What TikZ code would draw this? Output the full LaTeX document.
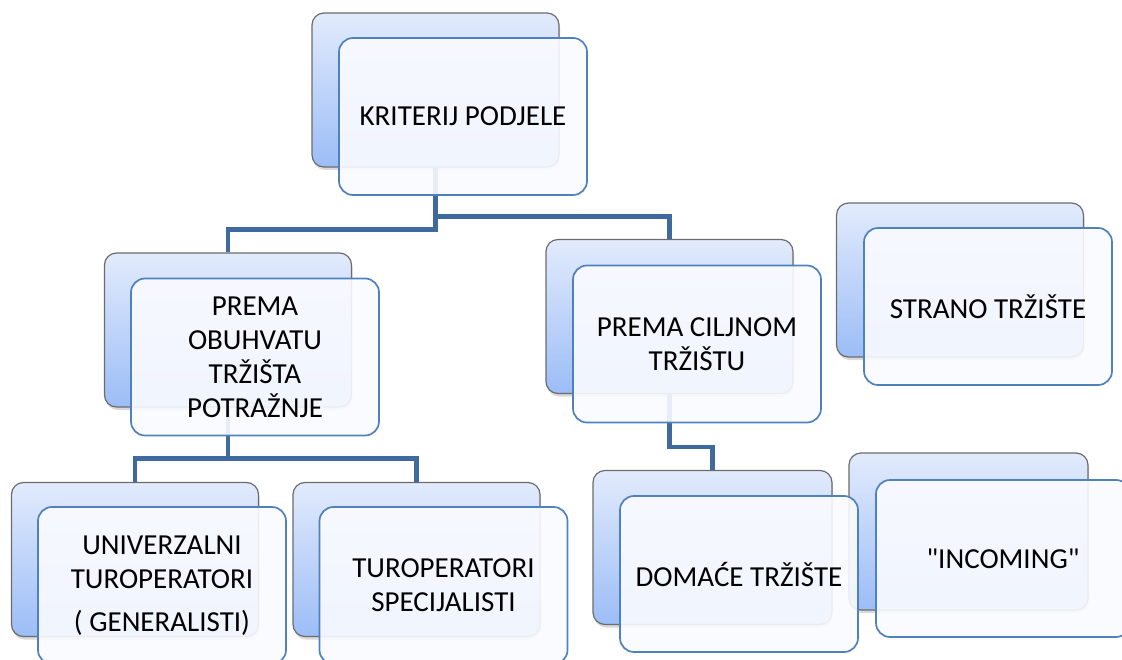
\documentclass[tikz,border=0pt]{standalone}
\usepackage{fontspec}
\setmainfont{Carlito}[Ligatures=TeXOff]
\usetikzlibrary{shadows}
\definecolor{lineblue}{RGB}{62,106,160}
\definecolor{backtop}{RGB}{226,235,252}
\definecolor{backbot}{RGB}{156,189,247}
\definecolor{frontline}{RGB}{79,129,189}
\definecolor{frontfill}{RGB}{250,251,255}

\begin{document}
\begin{tikzpicture}[x=1pt, y=-1pt,
	backbox/.style={draw=gray!85!black, line width=1.2pt, rounded corners=12pt,
		top color=backtop, bottom color=backbot, minimum width=247pt,
		minimum height=154pt, inner sep=0pt,
		drop shadow={shadow xshift=1pt, shadow yshift=-3pt, opacity=0.3}},
	frontbox/.style={draw=frontline, line width=1.7pt, rounded corners=14pt,
		fill=frontfill, fill opacity=0.9, text opacity=1, minimum width=248pt,
		minimum height=157pt, inner sep=0pt, align=center,
		font=\fontsize{29}{34}\selectfont},
	conn/.style={draw=lineblue, line width=4.5pt}]
	\useasboundingbox (0,0) rectangle (1122,660);
	\clip (0,0) rectangle (1122,660);
	\node [backbox] (kritb) at (435.5,90) {};
	\node [backbox] (obuhvatb) at (228,330) {};
	\node [backbox] (ciljnob) at (669.5,316.5) {};
	\node [backbox] (stranob) at (960,280) {};
	\node [backbox] (univb) at (135,559.5) {};
	\node [backbox] (specijb) at (416.5,559.5) {};
	\node [backbox, minimum width=239pt] (domaceb) at (712.5,547.5) {};
	\node [backbox, minimum width=239pt, minimum height=157pt] (incomingb) at (968.5,531.5) {};
	\draw [conn] (kritb.south) -- ++(0,62) -| (obuhvatb.north);
	\draw [conn] (kritb.south) -- ++(0,49) -| (ciljnob.north);
	\draw [conn] (obuhvatb.south) -- ++(0,51) -| (univb.north);
	\draw [conn] (obuhvatb.south) -- ++(0,51) -| (specijb.north);
	\draw [conn] (ciljnob.south) -- ++(0,53) -| (domaceb.north);
	\node [frontbox] (krit) at (463,116.5) {KRITERIJ PODJELE};
	\node [frontbox] (obuhvat) at (255,357) {PREMA\\OBUHVATU\\TRŽIŠTA\\POTRAŽNJE};
	\node [frontbox] (ciljno) at (697,344) {PREMA CILJNOM\\TRŽIŠTU};
	\node [frontbox] (strano) at (988,306.5) {STRANO TRŽIŠTE};
	\node [frontbox] (univ) at (162,585.5) {UNIVERZALNI\\TUROPERATORI\\[9pt]( GENERALISTI)};
	\node [frontbox] (specij) at (443.5,585.5) {TUROPERATORI\\SPECIJALISTI};
	\node [frontbox, minimum width=238pt, minimum height=156pt] (domace) at (739,574) {DOMAĆE TRŽIŠTE};
	\node [frontbox, minimum width=254pt] (incoming) at (1003,558.5) {"INCOMING"};
\end{tikzpicture}
\end{document}
